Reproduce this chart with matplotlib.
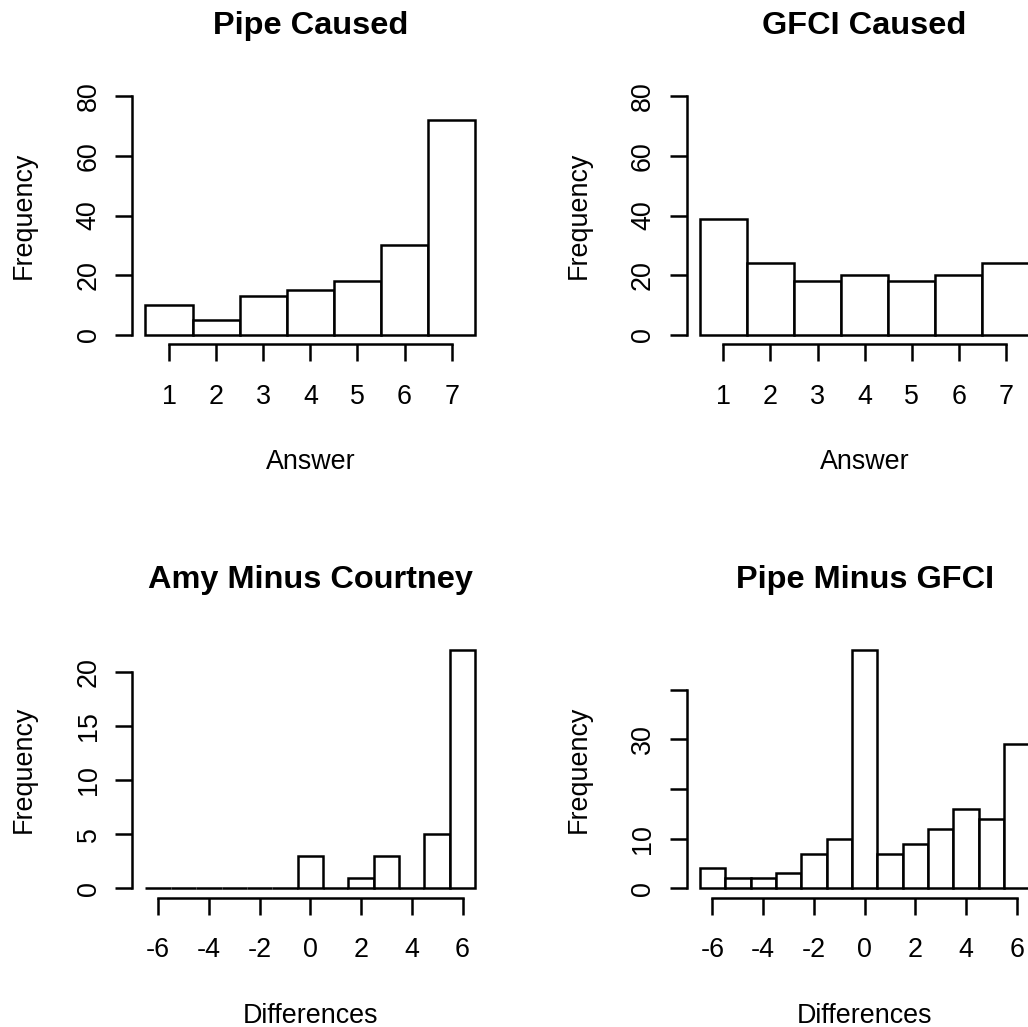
import numpy as np
import matplotlib
matplotlib.use("Agg")
import matplotlib.pyplot as plt

plt.rcParams['font.family'] = ['Liberation Sans', 'DejaVu Sans']

# survey answers on the 1-7 scale
answer_levels = [1, 2, 3, 4, 5, 6, 7]
pipe_counts = [10, 5, 13, 15, 18, 30, 72]
gfci_counts = [39, 24, 18, 20, 18, 20, 24]

# paired differences, -6 .. 6
diff_levels = [-6, -5, -4, -3, -2, -1, 0, 1, 2, 3, 4, 5, 6]
amy_courtney_counts = [0, 0, 0, 0, 0, 0, 3, 0, 1, 3, 0, 5, 22]
pipe_gfci_counts = [4, 2, 2, 3, 7, 10, 48, 7, 9, 12, 16, 14, 29]

answer_ticks = [1, 2, 3, 4, 5, 6, 7]
diff_ticks = [-6, -4, -2, 0, 2, 4, 6]

W, H = 1028, 1027
LW = 1.8          # line width, pt
FS = 19.4         # base text size, pt
TICK_LEN = 11.9


def px_axes(left, top, width, height):
    return [left / W, 1 - (top + height) / H, width / W, height / H]


def r_hist(ax, levels, counts, title, xlabel, xticks, yticks, ylabels, ymax=None):
    levels = np.asarray(levels)
    lo, hi = levels[0] - 0.5, levels[-1] + 0.5
    ext = 0.04 * (hi - lo)
    ax.set_xlim(lo - ext, hi + ext)
    top = ymax if ymax is not None else max(counts)
    ax.set_ylim(-0.04 * top, 1.04 * top)

    ax.bar(levels, counts, width=1, color='white', edgecolor='black',
           linewidth=LW, clip_on=False)

    # R-style detached axes running from first to last tick
    for side in ('top', 'right'):
        ax.spines[side].set_visible(False)
    ax.spines['left'].set_bounds(yticks[0], yticks[-1])
    ax.spines['bottom'].set_bounds(xticks[0], xticks[-1])
    for side in ('left', 'bottom'):
        ax.spines[side].set_linewidth(LW)

    ax.set_xticks(xticks, [str(t) for t in xticks], fontsize=FS)
    ax.set_yticks(yticks, ylabels, fontsize=FS, rotation=90, va='center')
    ax.tick_params(axis='both', length=TICK_LEN, width=LW, direction='out')
    ax.tick_params(axis='x', pad=16.6)
    ax.tick_params(axis='y', pad=10.2)

    ax.set_title(title, fontsize=23.4, fontweight='bold', pad=37.8)
    ax.set_xlabel(xlabel, fontsize=FS, labelpad=28.4)
    ax.set_ylabel('Frequency', fontsize=FS, labelpad=27.8)
    ax.patch.set_visible(False)


fig = plt.figure(figsize=(W / 100, H / 100), dpi=100)

col_left = [132.3, 686.6]
row_top = [86.8, 640.4]
ax_w, ax_h = 356.1, 257.5

ax1 = fig.add_axes(px_axes(col_left[0], row_top[0], ax_w, ax_h))
r_hist(ax1, answer_levels, pipe_counts, 'Pipe Caused', 'Answer',
       answer_ticks, [0, 20, 40, 60, 80], ['0', '20', '40', '60', '80'], ymax=80)

ax2 = fig.add_axes(px_axes(col_left[1], row_top[0], ax_w, ax_h))
r_hist(ax2, answer_levels, gfci_counts, 'GFCI Caused', 'Answer',
       answer_ticks, [0, 20, 40, 60, 80], ['0', '20', '40', '60', '80'], ymax=80)

ax3 = fig.add_axes(px_axes(col_left[0], row_top[1], ax_w, ax_h))
r_hist(ax3, diff_levels, amy_courtney_counts, 'Amy Minus Courtney', 'Differences',
       diff_ticks, [0, 5, 10, 15, 20], ['0', '5', '10', '15', '20'])

ax4 = fig.add_axes(px_axes(col_left[1], row_top[1], ax_w, ax_h))
r_hist(ax4, diff_levels, pipe_gfci_counts, 'Pipe Minus GFCI', 'Differences',
       diff_ticks, [0, 10, 20, 30, 40], ['0', '10', '', '30', ''])

fig.savefig('out.png', dpi=100)
